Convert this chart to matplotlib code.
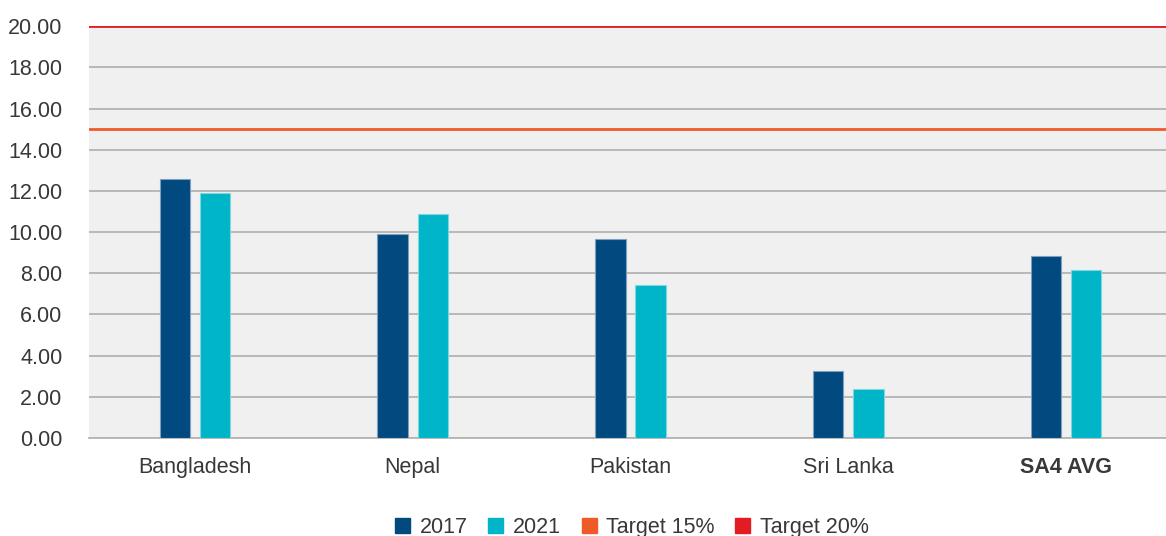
import matplotlib.pyplot as plt
from matplotlib.patches import Patch
import numpy as np

plt.rcParams['font.family'] = ['Liberation Sans', 'DejaVu Sans']

countries = ['Bangladesh', 'Nepal', 'Pakistan', 'Sri Lanka', 'SA4 AVG']
vals_2017 = [12.57, 9.90, 9.66, 3.25, 8.83]
vals_2021 = [11.89, 10.87, 7.43, 2.38, 8.16]
target_15 = 15
target_20 = 20

c2017 = '#004a80'
c2021 = '#00b5c8'
c15 = '#f05a28'
c20 = '#e31b23'

fig = plt.figure(figsize=(11.66, 5.36), dpi=100)
ax = fig.add_axes([0.0763, 0.183, 0.9237, 0.768])
ax.set_facecolor('#f0f0f0')

pos = np.arange(len(countries))
width = 0.14
off = 0.092

ax.bar(pos - off, vals_2017, width, color=c2017, edgecolor='#7fa0bd', linewidth=0.8, zorder=3)
ax.bar(pos + off, vals_2021, width, color=c2021, edgecolor='#7fd6df', linewidth=0.8, zorder=3)

ax.axhline(target_15, color=c15, linewidth=2, zorder=4)
ax.axhline(target_20, color=c20, linewidth=2, zorder=4)

ax.set_xlim(-0.487, 4.459)
ax.set_ylim(0, 20)
ax.set_yticks(np.arange(0, 21, 2))
ax.set_yticklabels(['%.2f' % v for v in np.arange(0, 21, 2)])
ax.yaxis.grid(True, color='#b4b4b4', linewidth=1.3, zorder=1)
ax.set_axisbelow(True)

ax.set_xticks(pos)
ax.set_xticklabels(countries)
ax.get_xticklabels()[-1].set_fontweight('bold')
ax.tick_params(axis='both', length=0, labelsize=15.5, colors='#383838')
ax.tick_params(axis='x', pad=14)
ax.tick_params(axis='y', pad=19)

for s in ['top', 'right', 'left']:
    ax.spines[s].set_visible(False)
ax.spines['bottom'].set_color('#b4b4b4')
ax.spines['bottom'].set_linewidth(1.3)

handles = [Patch(color=c2017, label='2017'), Patch(color=c2021, label='2021'),
           Patch(color=c15, label='Target 15%'), Patch(color=c20, label='Target 20%')]
leg = fig.legend(handles=handles, loc='center', bbox_to_anchor=(0.542, 0.016), ncol=4,
                 frameon=False, fontsize=15.5, handlelength=0.7, handleheight=0.7,
                 handletextpad=0.45, columnspacing=0.95)
for t in leg.get_texts():
    t.set_color('#383838')

fig.savefig('out.png', dpi=100)
